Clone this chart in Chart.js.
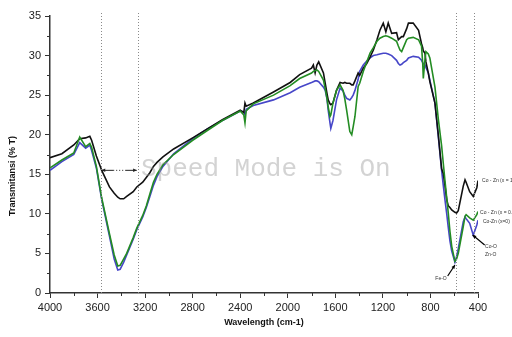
<!DOCTYPE html>
<html>
<head>
<meta charset="utf-8">
<script src="https://cdn.jsdelivr.net/npm/chart.js@4.4.1/dist/chart.umd.min.js"></script>
<style>
  html, body { margin: 0; padding: 0; background: #fff; }
</style>
</head>
<body>
<canvas id="ftir" width="512" height="337"></canvas>
<script>
const wavenumbers = [
  4000, 3900, 3800, 3750, 3700, 3665, 3650, 3610, 3565, 3500, 3460, 3430, 3410, 3380, 3355,
  3300, 3270, 3220, 3190, 3160, 3130, 3100, 3050, 2960, 2800, 2680, 2550, 2400, 2370, 2360,
  2350, 2290, 2120, 1980, 1900, 1800, 1785, 1770, 1755, 1740, 1700, 1685, 1670, 1660, 1645,
  1638, 1620, 1590, 1560, 1535, 1520, 1505, 1478, 1462, 1450, 1435, 1408, 1395, 1365, 1336,
  1308, 1280, 1250, 1225, 1197, 1175, 1155, 1126, 1085, 1070, 1056, 1042, 1028, 1000, 985,
  945, 900, 875, 865, 860, 846, 838, 818, 805, 762, 734, 706, 692, 678, 663,
  650, 636, 621, 594, 580, 566, 524, 509, 500, 470, 440, 410, 400,
];

// Co-Zn (x = 1), black
const coZnX1 = [
  17.1, 17.6, 18.7, 19.5, 19.6, 19.8, 19.3, 17.3, 15.5, 13.4, 12.6, 12.1, 11.9, 11.9, 12.2,
  12.8, 13.4, 14.0, 14.6, 15.2, 16.0, 16.5, 17.2, 18.2, 19.6, 20.7, 21.9, 23.1, 22.8, 24.0,
  23.6, 24.0, 25.4, 26.6, 27.6, 28.4, 28.8, 27.8, 28.8, 29.2, 27.8, 26.5, 25.2, 24.4, 23.9,
  23.8, 24.0, 25.6, 26.6, 26.5, 26.6, 26.5, 26.5, 26.3, 26.3, 26.8, 27.8, 27.5, 28.4, 29.0,
  29.8, 30.7, 32.0, 33.2, 34.1, 33.0, 34.1, 32.8, 32.9, 32.0, 32.2, 32.4, 32.4, 33.4, 34.1,
  34.1, 33.2, 31.5, 31.0, 30.6, 30.3, 29.2, 27.8, 26.7, 24.0, 20.0, 15.7, 15.1, 13.6, 11.8,
  11.0, 10.8, 10.5, 10.2, 10.1, 10.4, 13.5, 14.3, 14.0, 12.8, 12.2, 13.3, 14.2,
];

// Co-Zn (x = 0.5), green
const coZnX05 = [
  15.8, 16.8, 17.7, 19.7, 18.5, 18.9, 18.4, 16.0, 12.0, 7.5, 4.8, 3.4, 3.5, 4.3, 5.0,
  7.0, 8.2, 9.8, 11.0, 12.5, 14.0, 15.0, 16.2, 17.5, 19.3, 20.5, 21.8, 23.0, 22.5, 21.5,
  23.0, 23.9, 25.0, 26.2, 27.1, 27.8, 28.0, 28.1, 28.2, 28.0, 26.9, 25.8, 24.6, 23.5, 22.3,
  22.5, 24.0, 25.6, 26.3, 25.6, 24.5, 23.1, 20.4, 20.0, 21.0, 22.3, 26.1, 26.5, 28.0, 29.2,
  30.3, 31.0, 31.8, 32.2, 32.4, 32.5, 32.4, 32.2, 31.8, 31.2, 30.7, 30.5, 31.0, 32.0, 32.2,
  32.3, 32.0, 31.2, 29.0, 27.1, 29.5, 30.5, 30.2, 29.7, 26.0, 22.0, 18.6, 16.4, 14.2, 12.0,
  10.1, 7.8, 5.9, 4.0, 4.3, 5.0, 8.4, 9.7, 9.9, 9.5, 9.2, 9.9, 10.3,
];

// Co-Zn (x = 0), blue
const coZnX0 = [
  15.5, 16.6, 17.5, 19.0, 18.3, 18.7, 18.0, 15.8, 11.8, 7.2, 4.3, 2.9, 3.0, 3.9, 4.8,
  6.8, 8.0, 9.6, 10.8, 12.2, 13.6, 14.7, 16.0, 17.6, 19.5, 20.7, 21.8, 23.0, 22.9, 22.5,
  23.2, 23.7, 24.4, 25.3, 26.0, 26.6, 26.7, 26.8, 26.8, 26.7, 26.0, 25.6, 24.5, 23.1, 21.5,
  20.8, 21.8, 24.4, 25.9, 25.5, 25.0, 24.6, 24.4, 24.7, 25.0, 25.6, 27.0, 28.0, 28.8, 29.3,
  29.7, 30.0, 30.1, 30.2, 30.3, 30.3, 30.2, 30.0, 29.4, 29.0, 28.8, 28.9, 29.1, 29.4, 29.7,
  29.9, 29.8, 29.4, 29.1, 29.0, 28.8, 28.5, 27.8, 26.9, 24.0, 19.8, 15.5, 13.6, 11.8, 10.0,
  8.3, 6.6, 5.3, 3.9, 4.6, 5.6, 9.0, 9.6, 9.4, 8.8, 7.3, 8.6, 9.2,
];

const xTicks = [4000, 3600, 3200, 2800, 2400, 2000, 1600, 1200, 800, 400];
const yTicks = [0, 5, 10, 15, 20, 25, 30, 35];
const markerLines = [3574, 3262, 583, 436];

function pts(values) {
  return wavenumbers.map((w, i) => ({ x: w, y: values[i] }));
}

function arrow(ctx, x1, y1, x2, y2, head) {
  const a = Math.atan2(y2 - y1, x2 - x1);
  ctx.beginPath();
  ctx.moveTo(x1, y1);
  ctx.lineTo(x2, y2);
  ctx.stroke();
  ctx.beginPath();
  ctx.moveTo(x2, y2);
  ctx.lineTo(x2 - head * Math.cos(a - 0.45), y2 - head * Math.sin(a - 0.45));
  ctx.lineTo(x2 - head * Math.cos(a + 0.45), y2 - head * Math.sin(a + 0.45));
  ctx.closePath();
  ctx.fill();
}

const decorations = {
  id: "decorations",
  afterDraw(chart) {
    const { ctx, chartArea, scales } = chart;
    const x = scales.x;
    const y = scales.y;
    ctx.save();

    // minor ticks
    ctx.strokeStyle = "#333";
    ctx.lineWidth = 1;
    ctx.beginPath();
    for (let i = 1; i < xTicks.length; i++) {
      const px = Math.round(x.getPixelForValue((xTicks[i] + xTicks[i - 1]) / 2)) + 0.5;
      ctx.moveTo(px, chartArea.bottom);
      ctx.lineTo(px, chartArea.bottom + 3);
    }
    for (let i = 1; i < yTicks.length; i++) {
      const py = Math.round(y.getPixelForValue((yTicks[i] + yTicks[i - 1]) / 2)) + 0.5;
      ctx.moveTo(chartArea.left, py);
      ctx.lineTo(chartArea.left - 3, py);
    }
    ctx.stroke();

    // dotted guide lines
    ctx.strokeStyle = "#8a8a8a";
    ctx.setLineDash([1, 2]);
    ctx.beginPath();
    markerLines.forEach((w) => {
      const px = Math.round(x.getPixelForValue(w)) + 0.5;
      ctx.moveTo(px, chartArea.top - 3);
      ctx.lineTo(px, chartArea.bottom);
    });
    ctx.stroke();
    ctx.setLineDash([]);

    // double arrow between the O-H guides
    ctx.strokeStyle = "#222";
    ctx.fillStyle = "#222";
    const ay = y.getPixelForValue(15.5);
    const ax1 = x.getPixelForValue(markerLines[0]);
    const ax2 = x.getPixelForValue(markerLines[1]);
    const mid = (ax1 + ax2) / 2;
    arrow(ctx, mid - 6, ay, ax1 + 1, ay, 4);
    arrow(ctx, mid + 6, ay, ax2 - 1, ay, 4);
    ctx.setLineDash([1, 2]);
    ctx.beginPath();
    ctx.moveTo(mid - 6, ay);
    ctx.lineTo(mid + 6, ay);
    ctx.stroke();
    ctx.setLineDash([]);

    // small labels
    ctx.font = "5px 'Liberation Sans', Arial, sans-serif";
    ctx.fillStyle = "#333";
    ctx.textBaseline = "middle";
    ctx.textAlign = "left";
    ctx.fillText("Co - Zn (x = 1)", x.getPixelForValue(366), y.getPixelForValue(14.2));
    ctx.fillText("Co - Zn (x = 0.5)", x.getPixelForValue(383), y.getPixelForValue(10.2));
    ctx.fillText("Co-Zn (x=0)", x.getPixelForValue(358), y.getPixelForValue(9.0));
    ctx.fillText("Co-O", x.getPixelForValue(341), y.getPixelForValue(5.8));
    ctx.fillText("Zn-O", x.getPixelForValue(341), y.getPixelForValue(4.8));
    ctx.textAlign = "center";
    ctx.fillText("Fe-O", x.getPixelForValue(711), y.getPixelForValue(1.86));

    ctx.strokeStyle = "#000";
    ctx.fillStyle = "#000";
    ctx.lineWidth = 1.2;
    arrow(ctx, x.getPixelForValue(655), y.getPixelForValue(2.15), x.getPixelForValue(594), y.getPixelForValue(3.54), 4);
    arrow(ctx, x.getPixelForValue(344), y.getPixelForValue(6.07), x.getPixelForValue(445), y.getPixelForValue(7.33), 4);

    // axis titles
    ctx.fillStyle = "#111";
    ctx.font = "bold 9px 'Liberation Sans', Arial, sans-serif";
    ctx.textAlign = "center";
    ctx.textBaseline = "middle";
    ctx.fillText("Wavelength (cm-1)", 264, 323);
    ctx.save();
    ctx.translate(13, 176);
    ctx.rotate(-Math.PI / 2);
    ctx.fillText("Transmitansi (% T)", 0, 0);
    ctx.restore();

    // screen-capture watermark
    ctx.font = "26px 'Liberation Mono', 'Courier New', monospace";
    ctx.fillStyle = "rgba(150,150,150,0.42)";
    ctx.textAlign = "left";
    ctx.textBaseline = "alphabetic";
    ctx.fillText("Speed Mode is On", 141, 176);

    ctx.restore();
  },
};

Chart.defaults.font.family = "'Liberation Sans', Arial, sans-serif";

new Chart(document.getElementById("ftir"), {
  type: "line",
  data: {
    datasets: [
      { label: "Co-Zn (x = 0.5)", data: pts(coZnX05), borderColor: "#238c23" },
      { label: "Co-Zn (x = 1)", data: pts(coZnX1), borderColor: "#111111" },
      { label: "Co-Zn (x = 0)", data: pts(coZnX0), borderColor: "#4646c8" },
    ],
  },
  options: {
    responsive: false,
    devicePixelRatio: 1,
    animation: false,
    layout: { padding: { top: 16, right: 34, left: 0, bottom: 0 } },
    elements: {
      point: { radius: 0 },
      line: { borderWidth: 1.6, tension: 0, fill: false },
    },
    plugins: {
      legend: { display: false },
      tooltip: { enabled: false },
    },
    scales: {
      x: {
        type: "linear",
        reverse: true,
        min: 400,
        max: 4000,
        afterBuildTicks: (scale) => {
          scale.ticks = xTicks.map((v) => ({ value: v }));
        },
        afterFit: (scale) => {
          scale.height = 44;
        },
        ticks: {
          color: "#222",
          font: { size: 11 },
          maxRotation: 0,
          autoSkip: false,
          padding: 3,
          callback: (value) => String(value),
        },
        grid: { drawOnChartArea: false, tickLength: 5, color: "#333" },
        border: { color: "#333", width: 1.5 },
      },
      y: {
        min: 0,
        max: 35,
        afterBuildTicks: (scale) => {
          scale.ticks = yTicks.map((v) => ({ value: v }));
        },
        afterFit: (scale) => {
          scale.width = 50;
        },
        ticks: { color: "#222", font: { size: 11 }, padding: 4, callback: (value) => String(value) },
        grid: { drawOnChartArea: false, tickLength: 5, color: "#333" },
        border: { color: "#333", width: 1.5 },
      },
    },
  },
  plugins: [decorations],
});
</script>
</body>
</html>
